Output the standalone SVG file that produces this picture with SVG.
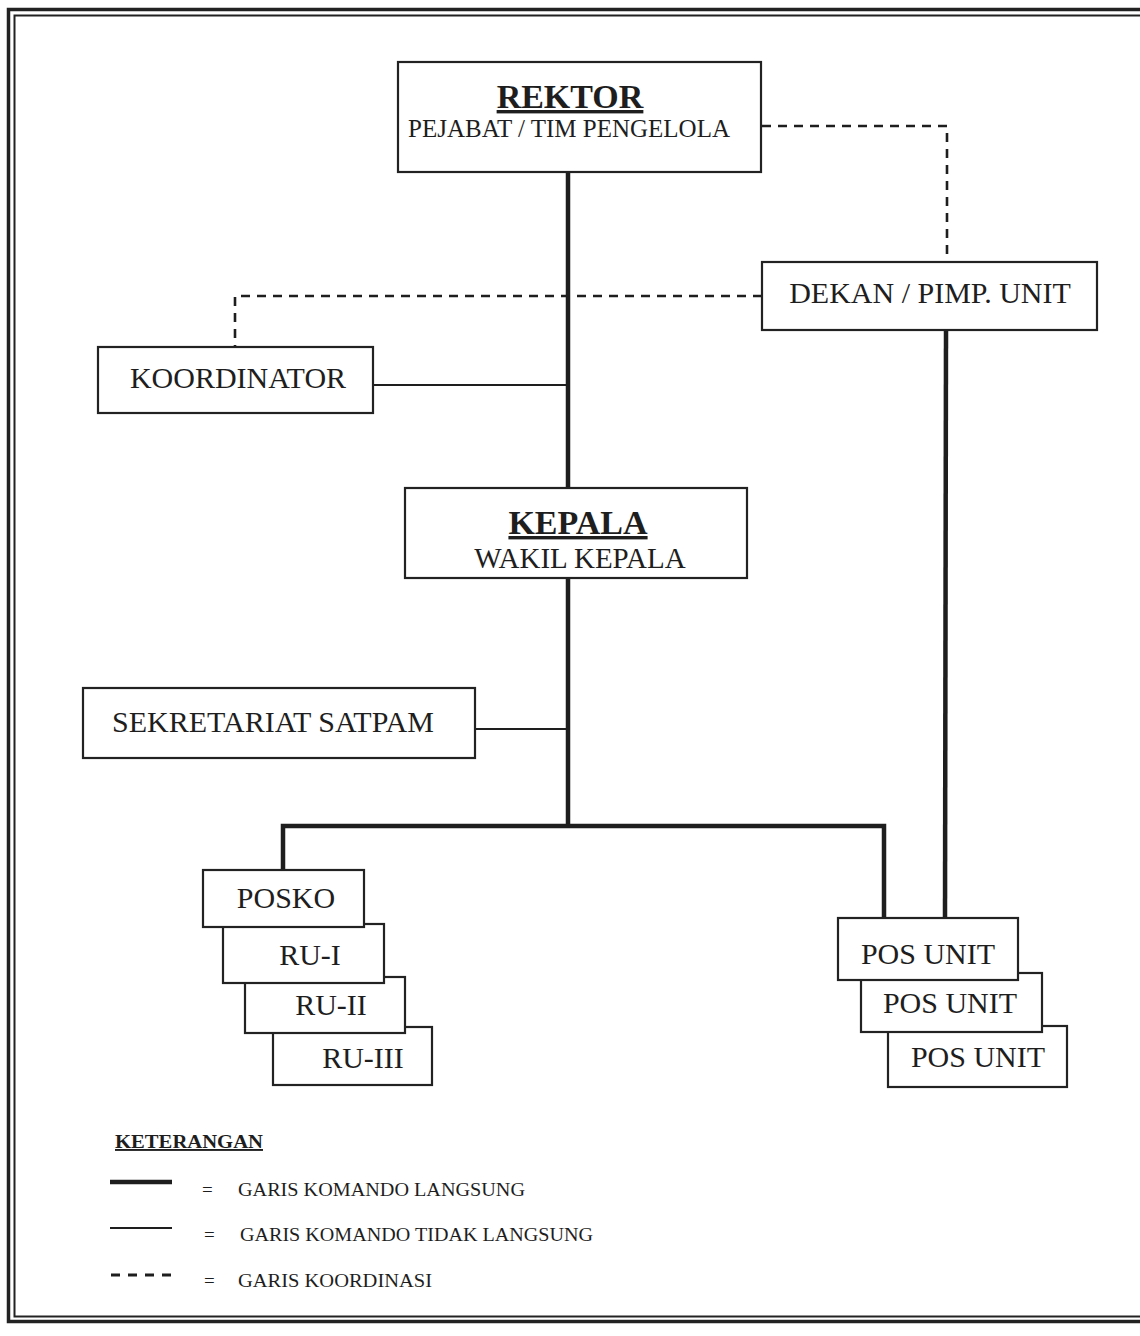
<svg xmlns="http://www.w3.org/2000/svg" width="1140" height="1336" viewBox="0 0 1140 1336">
<style>
  .box { fill: #fff; stroke: #222; stroke-width: 2.2; }
  .t { font-family: "Liberation Serif", "Times New Roman", serif; fill: #1e1e1e; text-anchor: middle; }
  .thick { stroke: #1e1e1e; stroke-width: 4.5; fill: none; }
  .thin { stroke: #1e1e1e; stroke-width: 2.2; fill: none; }
  .dash { stroke: #1e1e1e; stroke-width: 2.6; fill: none; stroke-dasharray: 9 7; }
  .lg { font-family: "Liberation Serif", "Times New Roman", serif; fill: #1e1e1e; font-size: 19px; }
</style>
<rect x="0" y="0" width="1140" height="1336" fill="#fff"/>
<g id="frame">
  <rect x="8.5" y="9.5" width="1145" height="1312" fill="none" stroke="#222" stroke-width="3.5"/>
  <rect x="14.5" y="15.5" width="1135" height="1301" fill="none" stroke="#222" stroke-width="2"/>
</g>
<g id="connectors">
  <line class="thick" x1="568" y1="172" x2="568" y2="488"/>
  <line class="thick" x1="568" y1="578" x2="568" y2="826"/>
  <polyline class="thick" points="283,870 283,826 884,826 884,918"/>
  <line class="thick" x1="946" y1="330" x2="945" y2="918"/>
  <line class="thin" x1="373" y1="385" x2="568" y2="385"/>
  <line class="thin" x1="475" y1="729" x2="568" y2="729"/>
  <polyline class="dash" points="762,126 947,126 947,262"/>
  <polyline class="dash" points="762,296 235,296 235,347"/>
</g>
<g id="rektor">
  <rect class="box" x="398" y="62" width="363" height="110"/>
  <text class="t" x="570" y="108" font-size="34" font-weight="bold" text-decoration="underline">REKTOR</text>
  <text class="t" x="569" y="137" font-size="24.5" textLength="322" lengthAdjust="spacingAndGlyphs">PEJABAT / TIM PENGELOLA</text>
</g>
<g id="dekan">
  <rect class="box" x="762" y="262" width="335" height="68"/>
  <text class="t" x="930" y="303" font-size="30">DEKAN / PIMP. UNIT</text>
</g>
<g id="koordinator">
  <rect class="box" x="98" y="347" width="275" height="66"/>
  <text class="t" x="238" y="388" font-size="30">KOORDINATOR</text>
</g>
<g id="kepala">
  <rect class="box" x="405" y="488" width="342" height="90"/>
  <text class="t" x="578" y="534" font-size="34" font-weight="bold" text-decoration="underline">KEPALA</text>
  <text class="t" x="580" y="568" font-size="29">WAKIL KEPALA</text>
</g>
<g id="sekretariat">
  <rect class="box" x="83" y="688" width="392" height="70"/>
  <text class="t" x="273" y="732" font-size="30">SEKRETARIAT SATPAM</text>
</g>
<g id="ru-iii">
  <rect class="box" x="273" y="1027" width="159" height="58"/>
  <text class="t" x="363" y="1068" font-size="30">RU-III</text>
</g>
<g id="ru-ii">
  <rect class="box" x="245" y="977" width="160" height="56"/>
  <text class="t" x="331" y="1015" font-size="30">RU-II</text>
</g>
<g id="ru-i">
  <rect class="box" x="223" y="924" width="161" height="59"/>
  <text class="t" x="310" y="965" font-size="30">RU-I</text>
</g>
<g id="posko">
  <rect class="box" x="203" y="870" width="161" height="57"/>
  <text class="t" x="286" y="908" font-size="30">POSKO</text>
</g>
<g id="pos-unit-3">
  <rect class="box" x="888" y="1026" width="179" height="61"/>
  <text class="t" x="978" y="1067" font-size="30">POS UNIT</text>
</g>
<g id="pos-unit-2">
  <rect class="box" x="861" y="973" width="181" height="59"/>
  <text class="t" x="950" y="1013" font-size="30">POS UNIT</text>
</g>
<g id="pos-unit-1">
  <rect class="box" x="838" y="918" width="180" height="62"/>
  <text class="t" x="928" y="964" font-size="30">POS UNIT</text>
</g>
<g id="legend">
  <text class="lg" x="115" y="1148" font-size="18" font-weight="bold" text-decoration="underline" textLength="148" lengthAdjust="spacingAndGlyphs">KETERANGAN</text>
  <line x1="110" y1="1182" x2="172" y2="1182" stroke="#1e1e1e" stroke-width="4.5"/>
  <line x1="110" y1="1228" x2="172" y2="1228" stroke="#1e1e1e" stroke-width="2.2"/>
  <line x1="111" y1="1275" x2="172" y2="1275" stroke="#1e1e1e" stroke-width="3" stroke-dasharray="9 8"/>
  <text class="lg" x="202" y="1196" font-size="21">=</text>
  <text class="lg" x="238" y="1196" textLength="287" lengthAdjust="spacingAndGlyphs">GARIS KOMANDO LANGSUNG</text>
  <text class="lg" x="204" y="1241" font-size="21">=</text>
  <text class="lg" x="240" y="1241" textLength="353" lengthAdjust="spacingAndGlyphs">GARIS KOMANDO TIDAK LANGSUNG</text>
  <text class="lg" x="204" y="1287" font-size="21">=</text>
  <text class="lg" x="238" y="1287" textLength="194" lengthAdjust="spacingAndGlyphs">GARIS KOORDINASI</text>
</g>
</svg>
